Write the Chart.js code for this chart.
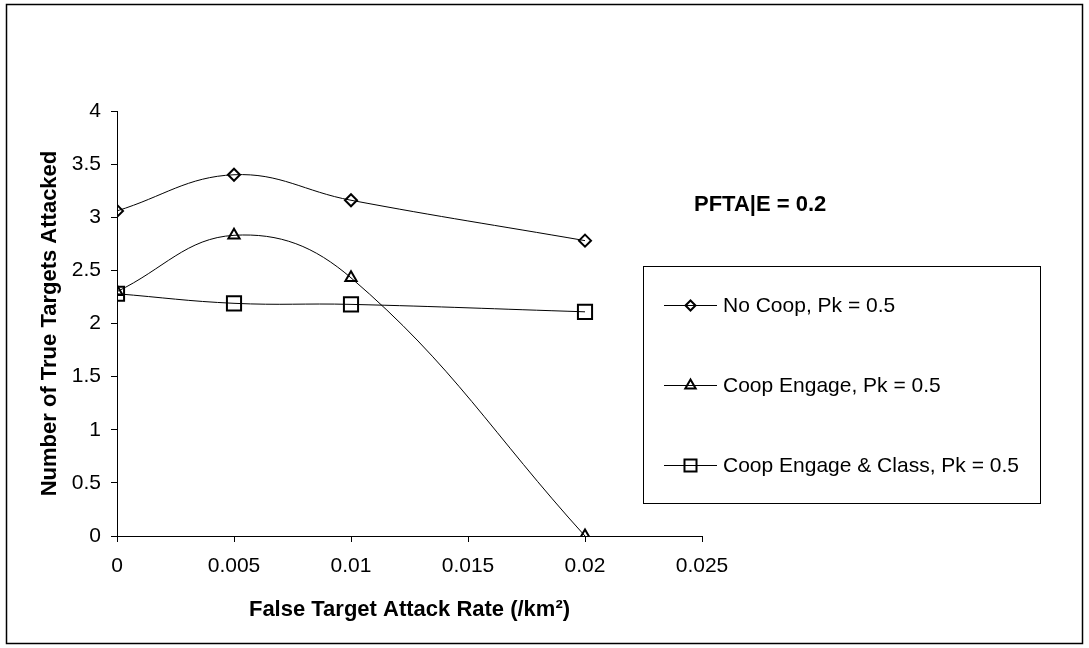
<!DOCTYPE html>
<html>
<head>
<meta charset="utf-8">
<script src="https://cdn.jsdelivr.net/npm/chart.js@4.4.0/dist/chart.umd.min.js"></script>
<style>
  html, body { margin: 0; padding: 0; background: #fff; }
  #wrap { width: 1089px; height: 648px; }
</style>
</head>
<body>
<div id="wrap"><canvas id="chart" width="1089" height="648"></canvas></div>
<script>
// values
const rates = [0, 0.005, 0.01, 0.02];
const noCoop = [3.06, 3.4, 3.16, 2.78];
const coopEngage = [2.3, 2.83, 2.43, 0];
const coopEngageClass = [2.28, 2.19, 2.18, 2.11];
const seriesNames = ['No Coop, Pk = 0.5', 'Coop Engage, Pk = 0.5', 'Coop Engage & Class, Pk = 0.5'];
const xTicks = [0, 0.005, 0.01, 0.015, 0.02, 0.025];
const yTicks = [0, 0.5, 1, 1.5, 2, 2.5, 3, 3.5, 4];
const noteText = 'PFTA|E = 0.2';

const FONT = '"Liberation Sans", Arial, sans-serif';

function toPoints(values) {
  return rates.map((x, i) => ({ x: x, y: values[i] }));
}

function makeDataset(label, values, pointStyle, radius) {
  return {
    label: label,
    data: toPoints(values),
    borderColor: '#000',
    borderWidth: 1,
    tension: 0.4,
    pointStyle: pointStyle,
    pointRadius: radius,
    pointBorderWidth: 2,
    pointBorderColor: '#000',
    pointBackgroundColor: 'rgba(0,0,0,0)',
  };
}

const legendRadius = { rectRot: 5, triangle: 6, rect: 8.5 };

const legendBox = {
  id: 'legendBox',
  afterDraw(chart) {
    const { ctx } = chart;
    ctx.save();
    ctx.strokeStyle = '#000';
    ctx.lineWidth = 1;
    ctx.strokeRect(643.5, 266.5, 397, 237);

    chart.data.datasets.forEach((ds, i) => {
      const y = 305 + i * 80;
      ctx.lineWidth = 1;
      ctx.beginPath();
      ctx.moveTo(664, y + 0.5);
      ctx.lineTo(717, y + 0.5);
      ctx.stroke();

      ctx.lineWidth = 2;
      ctx.fillStyle = 'rgba(0,0,0,0)';
      Chart.helpers.drawPoint(
        ctx,
        { pointStyle: ds.pointStyle, radius: legendRadius[ds.pointStyle], borderWidth: 2, rotation: 0 },
        690.5,
        y + 0.5
      );

      ctx.fillStyle = '#000';
      ctx.font = '21px ' + FONT;
      ctx.textAlign = 'left';
      ctx.textBaseline = 'middle';
      ctx.fillText(ds.label, 723, y + 1);
    });

    ctx.font = 'bold 22px ' + FONT;
    ctx.fillText(noteText, 694, 205);

    // outer frame
    ctx.lineWidth = 1.5;
    ctx.strokeRect(6.5, 4.5, 1076, 639);
    ctx.restore();
  },
};

const canvas = document.getElementById('chart');

new Chart(canvas, {
  type: 'line',
  data: {
    datasets: [
      makeDataset(seriesNames[0], noCoop, 'rectRot', 6),
      makeDataset(seriesNames[1], coopEngage, 'triangle', 6.5),
      makeDataset(seriesNames[2], coopEngageClass, 'rect', 10),
    ],
  },
  options: {
    responsive: false,
    animation: false,
    layout: { padding: { left: 20, right: 387, top: 111, bottom: 10 } },
    plugins: {
      legend: { display: false },
      tooltip: { enabled: false },
    },
    scales: {
      x: {
        type: 'linear',
        min: xTicks[0],
        max: xTicks[xTicks.length - 1],
        afterBuildTicks: (scale) => {
          scale.ticks = xTicks.map((v) => ({ value: v }));
        },
        afterFit: (scale) => {
          scale.height = 102;
        },
        border: { color: '#000', width: 1 },
        grid: { drawOnChartArea: false, drawTicks: true, tickLength: 6, color: '#000' },
        ticks: {
          color: '#000',
          padding: 12,
          maxRotation: 0,
          font: { family: FONT, size: 21 },
          callback: (v) => String(Number(v.toFixed(3))),
        },
        title: {
          display: true,
          text: 'False Target Attack Rate (/km²)',
          color: '#000',
          padding: { top: 0, bottom: 15 },
          font: { family: FONT, size: 22, weight: 'bold' },
        },
      },
      y: {
        min: yTicks[0],
        max: yTicks[yTicks.length - 1],
        afterBuildTicks: (scale) => {
          scale.ticks = yTicks.map((v) => ({ value: v }));
        },
        afterFit: (scale) => {
          scale.width = 97;
        },
        border: { color: '#000', width: 1 },
        grid: { drawOnChartArea: false, drawTicks: true, tickLength: 6, color: '#000' },
        ticks: {
          color: '#000',
          padding: 10,
          font: { family: FONT, size: 21 },
          callback: (v) => String(v),
        },
        title: {
          display: true,
          text: 'Number of True Targets Attacked',
          color: '#000',
          padding: { top: 17, bottom: 0 },
          font: { family: FONT, size: 22, weight: 'bold' },
        },
      },
    },
  },
  plugins: [legendBox],
});
</script>
</body>
</html>
